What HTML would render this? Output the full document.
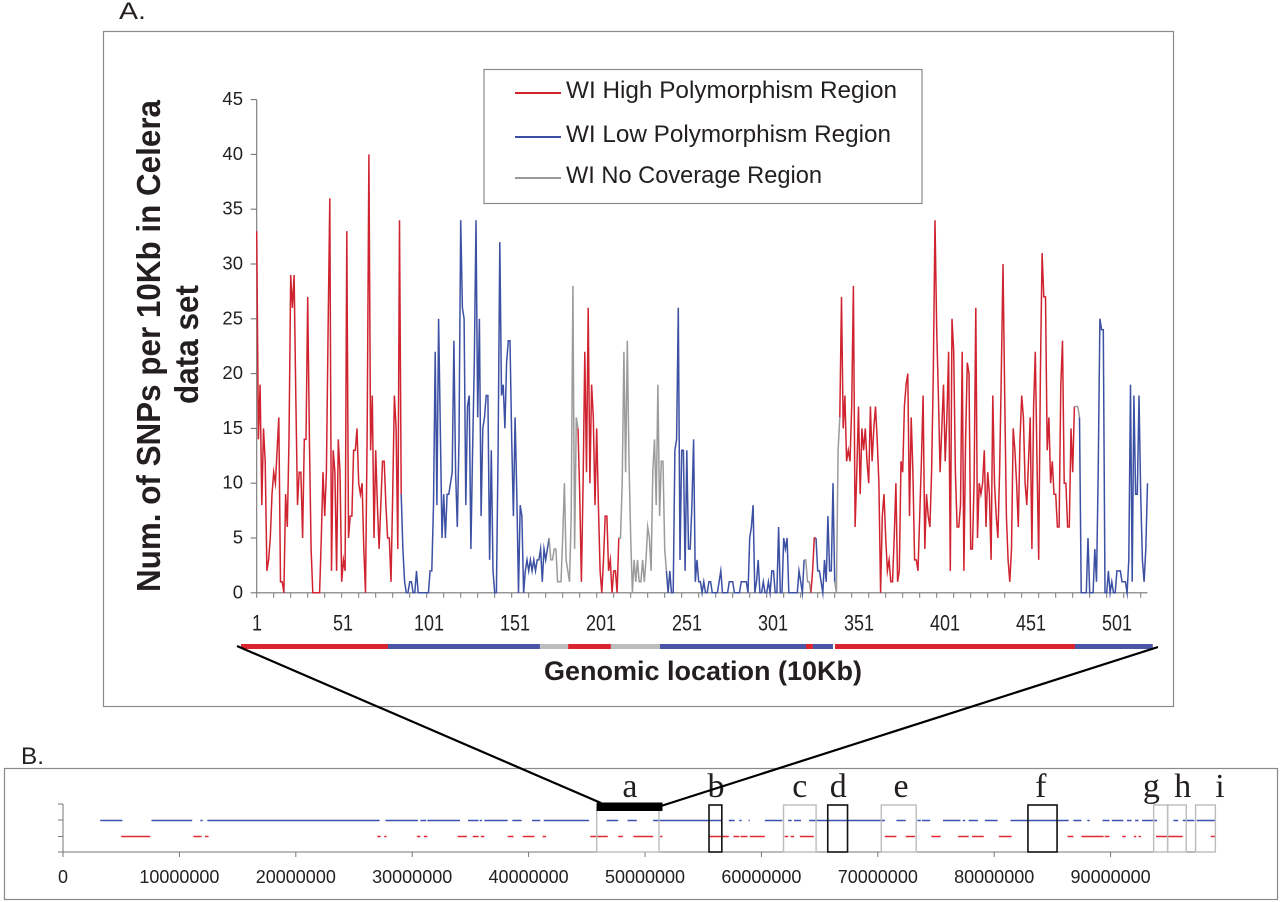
<!DOCTYPE html>
<html lang="en">
<head>
<meta charset="utf-8">
<title>SNP density across genomic location</title>
<style>
html,body{margin:0;padding:0;background:#fff;}
svg{display:block;font-family:"Liberation Sans",Arial,sans-serif;}
text{fill:#231f20;}
</style>
</head>
<body>
<svg id="figure" width="1280" height="902" viewBox="0 0 1280 902" xmlns="http://www.w3.org/2000/svg">
  <rect x="0" y="0" width="1280" height="902" fill="#fff"/>
  <text x="119" y="19" font-size="24" fill="#333" textLength="27" lengthAdjust="spacingAndGlyphs">A.</text>
  <rect x="103.5" y="31.5" width="1070" height="675" fill="#fff" stroke="#8a8a8a" stroke-width="1.2"/>
  <rect x="484" y="69.5" width="438" height="134" fill="#fff" stroke="#8a8a8a" stroke-width="1.2"/>
  <g>
    <line x1="515" y1="93" x2="561" y2="93" stroke="#d2232e" stroke-width="2"/>
    <text x="566" y="98" font-size="24" textLength="331" lengthAdjust="spacingAndGlyphs">WI High Polymorphism Region</text>
  </g>
  <g>
    <line x1="515" y1="137" x2="561" y2="137" stroke="#3b50a5" stroke-width="2"/>
    <text x="566" y="142" font-size="24" textLength="325" lengthAdjust="spacingAndGlyphs">WI Low Polymorphism Region</text>
  </g>
  <g>
    <line x1="515" y1="178" x2="561" y2="178" stroke="#999" stroke-width="2"/>
    <text x="566" y="183" font-size="24" textLength="256" lengthAdjust="spacingAndGlyphs">WI No Coverage Region</text>
  </g>
  <g>
    <text transform="translate(160,592) rotate(-90)" font-size="33" font-weight="700" textLength="492" lengthAdjust="spacingAndGlyphs">Num. of SNPs per 10Kb in Celera</text>
    <text transform="translate(198,404) rotate(-90)" font-size="33" font-weight="700" textLength="119" lengthAdjust="spacingAndGlyphs">data set</text>
  </g>
  <text x="544" y="680" font-size="27" font-weight="700" textLength="318" lengthAdjust="spacingAndGlyphs">Genomic location (10Kb)</text>
  <g id="chartA"></g>
  <g id="ribbon"></g>

  <text x="21" y="764" font-size="24" fill="#333" textLength="23" lengthAdjust="spacingAndGlyphs">B.</text>
  <rect x="4.5" y="768.5" width="1273" height="131" fill="#fff" stroke="#8a8a8a" stroke-width="1.2"/>
  <g id="chartB"></g>
  <line x1="237" y1="646" x2="601" y2="803" stroke="#000" stroke-width="2.2"/>
  <line x1="1158" y1="647" x2="661" y2="806" stroke="#000" stroke-width="2.2"/>
</svg>

<script>
// Panel A data: SNPs per 10 Kb window (windows 1..525)
const snpCounts = [
33,14,19,8,15,12,2,3,5,9,
11,10,13,16,1,1,0,9,6,14,
29,26,29,18,8,11,11,5,14,14,
27,14,4,0,0,0,0,0,5,11,
7,11,24,36,2,13,11,2,14,11,
1,3,2,33,5,7,7,13,13,15,
10,9,10,4,0,15,40,13,18,5,
13,8,4,8,12,12,8,5,5,1,
9,18,15,4,34,9,4,1,0,0,
1,1,0,0,2,0,0,0,0,0,
0,0,2,2,8,22,8,25,15,5,
9,5,9,9,10,11,23,11,6,14,
34,26,25,8,17,18,4,13,21,34,
16,25,7,15,16,18,18,3,13,2,
0,0,13,32,18,19,15,21,23,23,
14,7,16,9,0,8,7,0,2,3,
2,3,2,3,2,3,3,4,1,4,
3,4,5,3,3,4,4,1,1,1,
5,10,3,2,1,7,28,4,16,15,
9,1,10,22,11,26,10,19,16,8,
15,8,2,0,3,7,7,2,3,0,
2,2,0,5,5,10,22,11,23,12,
5,0,3,1,3,1,1,3,1,3,
6,5,2,11,14,8,19,7,12,12,
4,2,0,2,0,0,13,14,26,3,
13,13,2,13,4,4,8,14,1,3,
1,1,0,1,0,0,1,1,0,0,
0,0,1,2,0,0,0,0,1,1,
1,0,0,0,0,1,1,1,1,0,
5,6,8,0,1,3,0,0,1,0,
0,1,0,2,2,0,0,6,0,0,
5,4,5,0,0,0,0,0,0,2,
1,0,3,3,1,1,0,2,5,5,
2,2,1,0,3,1,7,2,2,10,
1,0,13,16,27,15,18,12,13,12,
17,28,6,11,17,9,15,13,15,12,
10,17,12,15,17,14,10,0,7,9,
5,2,3,1,1,5,10,1,2,12,
11,17,19,20,7,16,11,3,3,2,
7,12,18,4,9,7,6,11,20,34,
24,18,11,15,19,12,16,22,2,25,
22,11,6,6,8,22,2,14,21,20,
4,4,10,26,5,10,9,10,13,6,
11,9,3,18,10,7,5,11,20,30,
18,7,3,1,4,15,13,10,6,14,
18,16,10,8,12,16,4,17,22,12,
3,20,31,27,27,13,16,10,12,9,
9,6,6,19,23,10,10,6,6,15,
11,17,17,17,16,0,0,0,0,5,
0,0,0,4,1,11,25,24,24,0,
0,2,0,1,0,0,2,2,2,1,
1,1,0,3,19,1,18,9,9,18,
9,3,1,4,10
];
// Coverage classes along the window axis: first window, last window, class
const regionStarts = [1, 86, 173, 190, 214, 242, 323, 327, 330, 341, 344, 482, 485];
const regionEnds   = [86, 173, 190, 214, 242, 323, 327, 330, 341, 344, 482, 485, 525];
const regionClass  = ["high","low","none","high","none","low","none","high","low","none","high","none","low"];
const classColors  = {high:"#cf2330", low:"#3c50a4", none:"#9b9b9b"};
// Ribbon under the axis: classed extents printed below the chart
const ribbonStarts = [1, 85.5, 172.8, 189, 213.6, 241.8, 325.7, 329.7, 342.4, 480.3];
const ribbonEnds   = [85.5, 172.8, 189, 213.6, 241.8, 325.7, 329.7, 341.2, 480.3, 525];
const ribbonClass  = ["high","low","none","high","none","low","high","low","high","low"];
const ribbonColors = {high:"#dc2430", low:"#4b55a5", none:"#bdbdbd"};
const yTickValues  = [0,5,10,15,20,25,30,35,40,45];
const xTickWindows = [1,11,21,31,41,51,61,71,81,91,101,111,121,131,141,151,161,171,181,191,201,211,221,231,241,251,261,271,281,291,301,311,321,331,341,351,361,371,381,391,401,411,421,431,441,451,461,471,481,491,501,511,521];
const xLabelWindows = [1,51,101,151,201,251,301,351,401,451,501];

// Panel B data: covered intervals in megabases
const blueSegments = [[3.2,5.1],[7.6,11.1],[11.8,12],[12.4,27.2],[27.7,30.5],[30.7,31.2],[31.3,34.1],[34.8,35.7],[35.8,36],[36.2,38.2],[38.6,39.4],[40.3,41],[41.3,45.2],[46.7,47.7],[48.5,49.3],[50.7,56.6],[57.2,57.7],[58.1,58.3],[58.9,59],[60.3,61.8],[62.3,62.6],[62.8,63.4],[64.1,70.6],[71.6,72.4],[73.4,73.7],[73.8,74.5],[75.6,77.1],[77.3,77.5],[77.8,78.6],[79.2,80.3],[81.4,86.4],[86.8,87.5],[88,88.2],[89.3,89.9],[90.1,91.1],[91.4,91.8],[92.1,92.4],[92.7,94],[95.4,95.8],[96.2,97.2],[97.4,99]];
const redSegments = [[5,7.5],[11.2,11.9],[12.2,12.5],[27,27.3],[27.6,27.8],[30.4,30.7],[31,31.3],[33.9,34.7],[35.2,35.7],[35.9,36.2],[38.2,38.7],[39.5,40.5],[41.2,41.5],[45.3,46.8],[47.7,48.1],[49,50.7],[51.3,51.5],[55.5,57.2],[57.6,58.1],[58.2,58.8],[59,60.3],[62,62.3],[62.5,62.8],[63.3,64.5],[70.6,71.6],[72.4,73.2],[74.6,75.4],[76.9,77.8],[78.1,79.1],[80.4,81.5],[86.3,86.8],[87.5,89.4],[89.5,89.9],[91,91.3],[92,92.2],[92.4,92.6],[93.9,96.2],[98.6,99]];
const bandLetters = ["a","b","c","d","e","f","g","h","i"];
const bandStarts  = [45.85,55.5,61.9,65.7,70.3,82.9,93.7,94.9,97.3];
const bandEnds    = [51.2,56.6,64.7,67.4,73.3,85.4,94.9,96.5,99];
const bandStrong  = [false,true,false,true,false,true,false,false,false];
const bandLabelMb = [48.7,56.1,63.3,66.6,72,84,93.5,96.2,99.4];
const mapTickValues = [0,10,20,30,40,50,60,70,80,90];
const mapTickLabels = ["0","10000000","20000000","30000000","40000000","50000000","60000000","70000000","80000000","90000000"];

const NS = "http://www.w3.org/2000/svg";
function make(parent, tag, attrs, text) {
  const el = document.createElementNS(NS, tag);
  for (const k in attrs) el.setAttribute(k, attrs[k]);
  if (text !== undefined) el.textContent = text;
  parent.appendChild(el);
  return el;
}

// Axis functions, panel A
const xA = w => 256.7 + (w - 1) * 1.7;
const xLabelA = w => 257 + (w - 1) * 1.72;
const yA = v => 592.8 - v * 10.96;
const xRibbon = w => 241 + (w - 1) * 1.74;
// Axis function, panel B
const xB = mb => 63 + mb * 11.64;

const chartA = document.getElementById("chartA");
const ribbon = document.getElementById("ribbon");
const chartB = document.getElementById("chartB");

let axisEl = make(chartA, "line", {x1:xA(1), y1:yA(45), x2:xA(1), y2:yA(0), stroke:"#777", "stroke-width":1.1});


axisEl = make(chartA, "line", {x1:xA(1), y1:yA(0), x2:xA(525), y2:yA(0), stroke:"#777", "stroke-width":1.1});



yTickValues.forEach(v => {
  const tick = make(chartA, "line", {x1:xA(1)-6, y1:yA(v), x2:xA(1), y2:yA(v), stroke:"#777", "stroke-width":1.1});
  
  
  const label = make(chartA, "text", {x:243, y:yA(v)+5.5, "font-size":18.5, "text-anchor":"end"}, String(v));
  
  
});
xTickWindows.forEach(w => {
  const tick = make(chartA, "line", {x1:xA(w), y1:yA(0), x2:xA(w), y2:yA(0)+5, stroke:"#777", "stroke-width":1});
  
  
});
xLabelWindows.forEach(w => {
  const chars = String(w).length;
  const label = make(chartA, "text", {x:xLabelA(w) - chars * 5, y:630.5, "font-size":22, textLength:chars * 10, lengthAdjust:"spacingAndGlyphs"}, String(w));
  
  
});

regionClass.forEach((cls, r) => {
  const pts = [];
  for (let w = regionStarts[r]; w <= regionEnds[r]; w++) {
    pts.push(xA(w).toFixed(1) + "," + yA(snpCounts[w - 1]).toFixed(1));
  }
  const line = make(chartA, "polyline", {points:pts.join(" "), fill:"none", stroke:classColors[cls], "stroke-width":1.5, "stroke-linejoin":"miter", "stroke-miterlimit":10});
  
  
});
ribbonClass.forEach((cls, r) => {
  const bar = make(ribbon, "rect", {x:xRibbon(ribbonStarts[r]), y:644, width:xRibbon(ribbonEnds[r]) - xRibbon(ribbonStarts[r]), height:5, fill:ribbonColors[cls]});
  
  
});

// Panel B
let mapAxis = make(chartB, "line", {x1:xB(0), y1:804, x2:xB(0), y2:852, stroke:"#777", "stroke-width":1});


mapAxis = make(chartB, "line", {x1:xB(0), y1:852, x2:xB(99), y2:852, stroke:"#777", "stroke-width":1});


[804, 820, 836.5, 852].forEach(y => {
  const tick = make(chartB, "line", {x1:xB(0)-5, y1:y, x2:xB(0), y2:y, stroke:"#777", "stroke-width":1});
  
  
});
mapTickValues.forEach((mb, i) => {
  const tick = make(chartB, "line", {x1:xB(mb), y1:852, x2:xB(mb), y2:857, stroke:"#777", "stroke-width":1});
  
  
  const label = make(chartB, "text", {x:xB(mb), y:883, "font-size":18, "text-anchor":"middle"}, mapTickLabels[i]);
  
  
});
blueSegments.forEach(s => {
  const seg = make(chartB, "line", {x1:xB(s[0]), y1:820.5, x2:xB(s[1]), y2:820.5, stroke:"#3c50b4", "stroke-width":1.5});
  
  
});
redSegments.forEach(s => {
  const seg = make(chartB, "line", {x1:xB(s[0]), y1:836.5, x2:xB(s[1]), y2:836.5, stroke:"#e02832", "stroke-width":1.5});
  
  
});
bandLetters.forEach((letter, i) => {
  const box = make(chartB, "rect", {x:xB(bandStarts[i]), y:805, width:xB(bandEnds[i]) - xB(bandStarts[i]), height:47, fill:"none", stroke:bandStrong[i] ? "#111" : "#bcbcbc", "stroke-width":bandStrong[i] ? 1.6 : 1.4});
  
  
  const label = make(chartB, "text", {x:xB(bandLabelMb[i]), y:797, "font-size":34, "font-family":'"Liberation Serif",serif', "text-anchor":"middle"}, letter);
  
  
});
const zoomBar = make(chartB, "rect", {x:xB(45.85), y:802.5, width:xB(51.5) - xB(45.85), height:8.5, fill:"#000"});


</script>
</body>
</html>
